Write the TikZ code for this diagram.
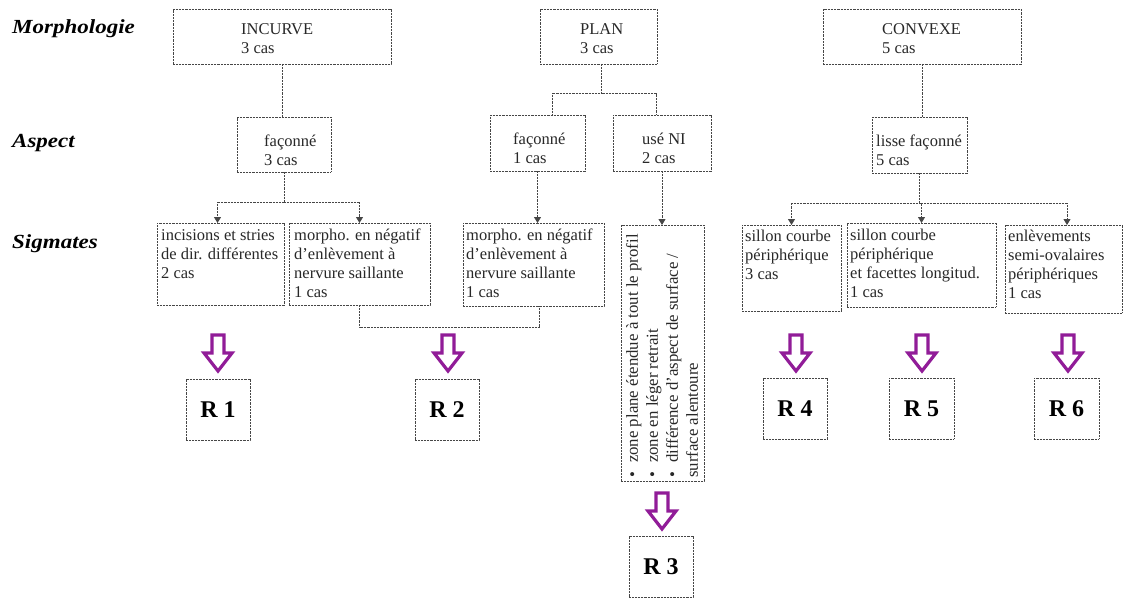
\documentclass[tikz,border=0pt]{standalone}
\usepackage{fontspec}
\setmainfont{Liberation Serif}
\newfontfamily\lblfont[FakeStretch=1.15]{Liberation Serif}
\usetikzlibrary{arrows.meta}
\definecolor{arrpurple}{RGB}{145,28,152}
\definecolor{linegray}{RGB}{70,70,70}
\definecolor{txtgray}{RGB}{40,40,40}
\tikzset{
  boxst/.style={draw=linegray, line width=0.9pt, dash pattern=on 1pt off 0.45pt, fill=white, inner sep=0pt, outer sep=0pt, anchor=north west},
  txt/.style={anchor=north west, inner sep=0pt, align=left, text=txtgray, font=\fontsize{16.5}{19}\selectfont},
  conn/.style={draw=linegray, line width=0.9pt, dash pattern=on 1pt off 0.45pt},
  connarr/.style={conn, -{Triangle[length=6pt,width=7pt]}},
  lbl/.style={anchor=base west, inner sep=0pt, font=\lblfont\fontsize{20}{22}\selectfont\bfseries\itshape},
  rbox/.style={boxst, minimum width=64pt, minimum height=61pt},
  rtxt/.style={font=\fontsize{24}{26}\selectfont\bfseries},
  bigarr/.style={draw=arrpurple, line width=3.2pt, fill=white, line join=miter}
}
\newcommand{\purplearrow}[2]{%
  \path[bigarr] (#1-6,#2) -- (#1+6,#2) -- (#1+6,#2+18) -- (#1+14,#2+18) -- (#1,#2+36) -- (#1-14,#2+18) -- (#1-6,#2+18) -- cycle;}
\begin{document}
\begin{tikzpicture}[x=1pt,y=-1pt]
\path[use as bounding box, fill=white] (0,0) rectangle (1124,599);

% row labels
\node[lbl] (lmorph) at (12,34) {Morphologie};
\node[lbl] (laspect) at (12,147) {Aspect};
\node[lbl] (lsigm) at (12,248) {Sigmates};

% Morphologie
\node[boxst, minimum width=218pt, minimum height=55pt] (inc) at (173,9) {};
\node[txt] (inc-t) at (241,23) {INCURVE\\3 cas};
\node[boxst, minimum width=117pt, minimum height=55pt] (plan) at (540,9) {};
\node[txt] (plan-t) at (580,23) {PLAN\\3 cas};
\node[boxst, minimum width=198pt, minimum height=55pt] (conv) at (823,9) {};
\node[txt] (conv-t) at (882,23) {CONVEXE\\5 cas};

% Aspect
\node[boxst, minimum width=94pt, minimum height=55pt] (faca) at (237,117) {};
\node[txt] (faca-t) at (264,135) {façonné\\3 cas};
\node[boxst, minimum width=95pt, minimum height=56pt] (facp) at (490,115) {};
\node[txt] (facp-t) at (513,133) {façonné\\1 cas};
\node[boxst, minimum width=98pt, minimum height=56pt] (use) at (613,115) {};
\node[txt] (use-t) at (642,133) {usé NI\\2 cas};
\node[boxst, minimum width=95pt, minimum height=56pt] (lisse) at (872,117) {};
\node[txt] (lisse-t) at (876,135) {lisse façonné\\5 cas};

% Sigmates
\node[boxst, minimum width=127pt, minimum height=82pt] (s1) at (157,223) {};
\node[txt] (s1-t) at (161,229) {incisions et stries\\de dir. différentes\\2 cas};
\node[boxst, minimum width=141pt, minimum height=82pt] (s2) at (289,223) {};
\node[txt] (s2-t) at (294,229) {morpho. en négatif\\d'enlèvement à\\nervure saillante\\1 cas};
\node[boxst, minimum width=141pt, minimum height=83pt] (s3) at (463,223) {};
\node[txt] (s3-t) at (466,229) {morpho. en négatif\\d'enlèvement à\\nervure saillante\\1 cas};
\node[boxst, minimum width=83pt, minimum height=256pt] (s4) at (621,225) {};
\node[txt, rotate=90, font=\fontsize{16.8}{19.5}\selectfont] (s4-t) at (624,478)
  {\begin{tabular}{@{}l@{\hspace{9pt}}l@{}}
   \textbullet & zone plane étendue à tout le profil\\[0.5pt]
   \textbullet & zone en léger retrait\\[0.5pt]
   \textbullet & différence d'aspect de surface /\\[0.5pt]
   \multicolumn{2}{@{}l@{}}{surface alentoure}
   \end{tabular}};
\node[boxst, minimum width=99pt, minimum height=86pt] (s5) at (742,225) {};
\node[txt] (s5-t) at (745,230) {sillon courbe\\périphérique\\3 cas};
\node[boxst, minimum width=149pt, minimum height=84pt] (s6) at (847,223) {};
\node[txt] (s6-t) at (850,229) {sillon courbe\\périphérique\\et facettes longitud.\\1 cas};
\node[boxst, minimum width=117pt, minimum height=88pt] (s7) at (1005,225) {};
\node[txt] (s7-t) at (1008,230) {enlèvements\\semi-ovalaires\\périphériques\\1 cas};

% Results
\node[rbox] (r1) at (186,379) {};
\node[rtxt] (r1-t) at (r1.center) {R 1};
\node[rbox] (r2) at (415,379) {};
\node[rtxt] (r2-t) at (r2.center) {R 2};
\node[rbox] (r3) at (629,536) {};
\node[rtxt] (r3-t) at (r3.center) {R 3};
\node[rbox] (r4) at (763,378) {};
\node[rtxt] (r4-t) at (r4.center) {R 4};
\node[rbox, minimum width=65pt] (r5) at (889,378) {};
\node[rtxt] (r5-t) at (r5.center) {R 5};
\node[rbox, minimum width=65pt] (r6) at (1034,378) {};
\node[rtxt] (r6-t) at (r6.center) {R 6};

% connectors: INCURVE
\draw[conn] (inc.south) -- (inc.south |- faca.north);
\draw[conn] (faca.south) -- ++(0,30) coordinate (ja);
\draw[connarr] (ja) -| ([xshift=-3pt]s1.north);
\draw[connarr] (ja) -| (s2.north);
% PLAN
\draw[conn] ([xshift=3pt]plan.south) -- ++(0,29) coordinate (jp);
\draw[conn] (jp) -| ([xshift=15pt]facp.north);
\draw[conn] (jp) -| ([xshift=-6pt]use.north);
\draw[connarr] (facp.south) -- (facp.south |- s3.north);
\draw[connarr] (use.south) -- (use.south |- s4.north);
% link between morpho boxes
\draw[conn] (s2.south) -- ++(0,22) -| ([xshift=6pt]s3.south);
% CONVEXE
\draw[conn] (conv.south) -- (conv.south |- lisse.north);
\draw[conn] (lisse.south) -- ++(0,30) coordinate (jc);
\draw[connarr] (jc) -| (s5.north);
\draw[connarr] (jc) -| (s6.north);
\draw[connarr] (jc) -| ([xshift=3.5pt]s7.north);

% purple arrows
\purplearrow{218}{335}
\purplearrow{448}{335}
\purplearrow{662}{493}
\purplearrow{796}{335}
\purplearrow{922}{335}
\purplearrow{1068}{335}
\end{tikzpicture}
\end{document}
